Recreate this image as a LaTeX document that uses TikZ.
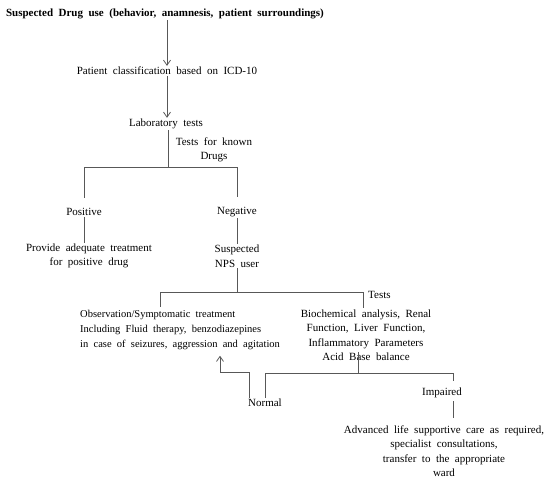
\documentclass[tikz,border=0pt]{standalone}
\usepackage{fontspec}
\setmainfont[WordSpace=2]{Liberation Serif}
\usetikzlibrary{arrows,arrows.meta}
\usetikzlibrary{calc}
\definecolor{linie}{RGB}{88,88,88}

\begin{document}
\begin{tikzpicture}[x=1pt, y=-1pt, >={Straight Barb[length=5pt,width=7pt]},
    txt/.style={inner sep=1pt, font=\fontsize{11}{14.5}\selectfont, align=center},
    verb/.style={draw=linie, line width=0.8pt}]

    \useasboundingbox (0,0) rectangle (550,486);

    % Knoten
    \node[txt, font=\fontsize{11}{14.5}\selectfont\bfseries] (verdacht) at (165,14) {Suspected Drug use (behavior, anamnesis, patient surroundings)};
    \node[txt] (klass) at (167,71) {Patient classification based on ICD-10};
    \node[txt] (labor) at (166,124) {Laboratory tests};
    \node[txt] (bekannt) at (214,150) {Tests for known\\Drugs};
    \node[txt] (positiv) at (84,212) {Positive};
    \node[txt] (negativ) at (237,212) {Negative};
    \node[txt] (therapie) at (89,256) {Provide adequate treatment\\for positive drug};
    \node[txt] (nps) at (237,256) {Suspected\\NPS user};
    \node[txt, font=\fontsize{10.5}{14.8}\selectfont, align=left, anchor=west] (obs) at (79,330) {Observation/Symptomatic treatment\\Including Fluid therapy, benzodiazepines\\in case of seizures, aggression and agitation};
    \node[txt, anchor=west] (testlabel) at (367,295) {Tests};
    \node[txt] (bio) at (366,335) {Biochemical analysis, Renal\\Function, Liver Function,\\Inflammatory Parameters\\Acid Base balance};
    \node[txt] (normal) at (265,403) {Normal};
    \node[txt] (impaired) at (442,393) {Impaired};
    \node[txt] (advanced) at (444,451) {Advanced life supportive care as required,\\specialist consultations,\\transfer to the appropriate\\ward};

    % Verzweigungen
    \coordinate (gabel1) at (168,167);
    \coordinate (gabel2) at (237,292);
    \coordinate (gabel3) at (358,373);
    \coordinate (obsin) at (160,307);
    \coordinate (bioaus) at (358,352);
    \coordinate (knick) at (220,372);

    % Verbindungen
    \draw[verb, ->] (verdacht.south -| klass) -- (klass);
    \draw[verb, ->] (klass) -- (klass |- labor.north);
    \draw[verb] (labor.south -| gabel1) -- (gabel1);
    \draw[verb, shorten >=9pt] (gabel1) -| (positiv);
    \draw[verb, shorten >=9pt] (gabel1) -| (negativ);
    \draw[verb] (positiv.south) -- (positiv.south |- therapie.north);
    \draw[verb] (negativ) -- (nps);
    \draw[verb] (nps) -- (gabel2);
    \draw[verb] (gabel2) -| (obsin);
    \draw[verb] (gabel2) -| ([xshift=-3pt]bio.north);
    \draw[verb] (bioaus) -- (gabel3);
    \draw[verb] (gabel3) -| (normal);
    \draw[verb, shorten >=6pt] (gabel3) -| ([xshift=11pt]impaired.north);
    \draw[verb, shorten <=2pt, shorten >=6pt] ([xshift=11pt]impaired.south) -- ([xshift=11pt]impaired.south |- advanced.north);
    \draw[verb, ->, shorten >=5pt] ([xshift=-16pt]normal.north) |- (knick) -- (knick |- obs.south);

\end{tikzpicture}
\end{document}
